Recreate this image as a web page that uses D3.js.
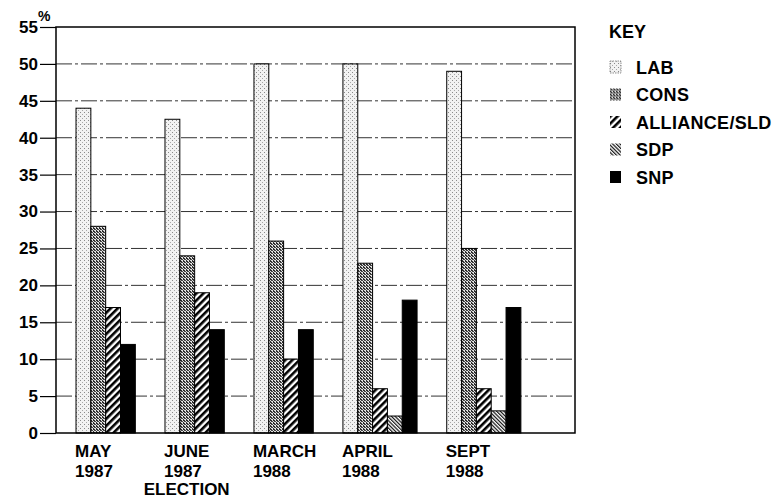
<!DOCTYPE html>
<html>
<head>
<meta charset="utf-8">
<script src="https://cdn.jsdelivr.net/npm/d3@7.9.0/dist/d3.min.js"></script>
<style>
  html, body { margin: 0; padding: 0; background: #fff; }
  svg { display: block; font-family: "Liberation Sans", Arial, Helvetica, sans-serif; font-weight: bold; }
</style>
</head>
<body>
<svg id="chart" width="784" height="500"></svg>
<script>
// Data
const periodLines = [
  ['MAY', '1987'],
  ['JUNE', '1987', 'ELECTION'],
  ['MARCH', '1988'],
  ['APRIL', '1988'],
  ['SEPT', '1988'],
];
const parties = ['LAB', 'CONS', 'ALLIANCE/SLD', 'SDP', 'SNP'];
const lab      = [44, 42.5, 50, 50, 49];
const cons     = [28, 24, 26, 23, 25];
const alliance = [17, 19, 10, 6, 6];
const sdp      = [null, null, null, 2.3, 3];
const snp      = [12, 14, 14, 18, 17];
const yTicks   = [0, 5, 10, 15, 20, 25, 30, 35, 40, 45, 50, 55];

const series = [lab, cons, alliance, sdp, snp];

const width = 784, height = 500;
const margin = { top: 27, right: 209, bottom: 67, left: 56 };
const plot = {
  left: margin.left,
  right: width - margin.right,
  top: margin.top,
  bottom: height - margin.bottom,
};

const svg = d3.select('#chart');

// patterns
const defs = svg.append('defs');

const labPat = defs.append('pattern').attr('id', 'p-lab')
  .attr('patternUnits', 'userSpaceOnUse').attr('width', 4).attr('height', 4);
labPat.append('rect').attr('width', 4).attr('height', 4).attr('fill', '#f2f2f2');
labPat.append('rect').attr('x', 0).attr('y', 0).attr('width', 1).attr('height', 1).attr('fill', '#8a8a8a');
labPat.append('rect').attr('x', 2).attr('y', 2).attr('width', 1).attr('height', 1).attr('fill', '#a8a8a8');

const consPat = defs.append('pattern').attr('id', 'p-cons')
  .attr('patternUnits', 'userSpaceOnUse').attr('width', 3).attr('height', 3);
consPat.append('rect').attr('width', 3).attr('height', 3).attr('fill', '#e0e0e0');
consPat.append('rect').attr('x', 0).attr('y', 0).attr('width', 2).attr('height', 1).attr('fill', '#2a2a2a');
consPat.append('rect').attr('x', 1).attr('y', 1).attr('width', 2).attr('height', 1).attr('fill', '#444');
consPat.append('rect').attr('x', 0).attr('y', 2).attr('width', 1).attr('height', 1).attr('fill', '#333');

const allPat = defs.append('pattern').attr('id', 'p-all')
  .attr('patternUnits', 'userSpaceOnUse').attr('width', 5).attr('height', 5)
  .attr('patternTransform', 'rotate(45)');
allPat.append('rect').attr('width', 5).attr('height', 5).attr('fill', '#fff');
allPat.append('rect').attr('width', 2.6).attr('height', 5).attr('fill', '#000');

const sdpPat = defs.append('pattern').attr('id', 'p-sdp')
  .attr('patternUnits', 'userSpaceOnUse').attr('width', 2.6).attr('height', 2.6)
  .attr('patternTransform', 'rotate(-45)');
sdpPat.append('rect').attr('width', 2.6).attr('height', 2.6).attr('fill', '#fff');
sdpPat.append('rect').attr('width', 1.2).attr('height', 2.6).attr('fill', '#111');

const fills = ['url(#p-lab)', 'url(#p-cons)', 'url(#p-all)', 'url(#p-sdp)', '#000'];

// scales
const yScale = d3.scaleLinear().domain([0, 55]).range([plot.bottom, plot.top]);

// x in "bar units": each bar one unit, gap of two between groups
const padLeft = 1.35, gapUnits = 2, padRight = 3.65;
const groups = [];
let cursor = padLeft;
periodLines.forEach((lines, i) => {
  const bars = [];
  series.forEach((s, p) => {
    if (s[i] != null) { bars.push({ party: p, value: s[i], u: cursor }); cursor += 1; }
  });
  groups.push({ lines, start: bars[0].u, bars });
  cursor += gapUnits;
});
const totalUnits = cursor - gapUnits + padRight;
const xScale = d3.scaleLinear().domain([0, totalUnits]).range([plot.left, plot.right]);
const bw = xScale(1) - xScale(0);

// gridlines
svg.append('g').attr('class', 'grid')
  .selectAll('line')
  .data(yTicks.filter(d => d > 0 && d < 55))
  .join('line')
  .attr('x1', plot.left).attr('x2', plot.right)
  .attr('y1', d => yScale(d)).attr('y2', d => yScale(d))
  .attr('stroke', '#333').attr('stroke-width', 1)
  .attr('stroke-dasharray', '16,3,3,3');

// bars
const bars = groups.flatMap(g => g.bars);
svg.append('g').attr('class', 'bars')
  .selectAll('rect')
  .data(bars)
  .join('rect')
  .attr('x', d => xScale(d.u))
  .attr('width', bw)
  .attr('y', d => yScale(d.value))
  .attr('height', d => yScale(0) - yScale(d.value))
  .attr('fill', d => fills[d.party])
  .attr('stroke', '#000')
  .attr('stroke-width', 1);

// frame
svg.append('rect')
  .attr('x', plot.left).attr('y', plot.top)
  .attr('width', plot.right - plot.left).attr('height', plot.bottom - plot.top)
  .attr('fill', 'none').attr('stroke', '#000').attr('stroke-width', 1.5);

// y axis
const yAxis = svg.append('g')
  .attr('transform', `translate(${plot.left},0)`)
  .call(d3.axisLeft(yScale).tickValues(yTicks).tickSize(16).tickPadding(2));
yAxis.select('.domain').remove();
yAxis.selectAll('.tick line').attr('stroke', '#000').attr('stroke-width', 1.2);
yAxis.selectAll('.tick text')
  .attr('font-size', 17).attr('font-weight', 'bold')
  .attr('font-family', '"Liberation Sans", Arial, sans-serif')
  .attr('fill', '#000');

svg.append('text')
  .attr('x', 38).attr('y', 21)
  .attr('font-size', 14)
  .text('%');

// x labels
const xl = svg.append('g').attr('class', 'x-labels')
  .selectAll('g')
  .data(groups)
  .join('g')
  .attr('transform', d => `translate(${xScale(d.start) - 1},0)`);

xl.each(function (g) {
  const sel = d3.select(this);
  const first = sel.append('text').attr('x', 0).attr('y', 457)
    .attr('font-size', 17).text(g.lines[0]);
  const w = first.node().getComputedTextLength();
  g.lines.slice(1).forEach((t, k) => {
    const extra = k === 1;
    sel.append('text')
      .attr('x', extra ? w / 2 : 0)
      .attr('y', 477 + k * 18)
      .attr('text-anchor', extra ? 'middle' : 'start')
      .attr('font-size', 17)
      .text(t);
  });
});

// legend
const legend = svg.append('g').attr('transform', 'translate(610,0)');
legend.append('text').attr('x', -1).attr('y', 38).attr('font-size', 18).text('KEY');

const items = legend.selectAll('g.item')
  .data(parties)
  .join('g')
  .attr('class', 'item')
  .attr('transform', (d, i) => `translate(0,${67 + i * 27.5})`);

items.append('rect')
  .attr('x', 0).attr('y', -6).attr('width', 11).attr('height', 12)
  .attr('fill', (d, i) => fills[i])
  .attr('stroke', (d, i) => i === 0 ? '#777' : 'none')
  .attr('stroke-dasharray', (d, i) => i === 0 ? '1.5,1' : null)
  .attr('stroke-width', 0.8);

items.append('text')
  .attr('x', 26).attr('y', 6.5)
  .attr('font-size', 18)
  .attr('letter-spacing', 0.3)
  .text(d => d);
</script>
</body>
</html>
